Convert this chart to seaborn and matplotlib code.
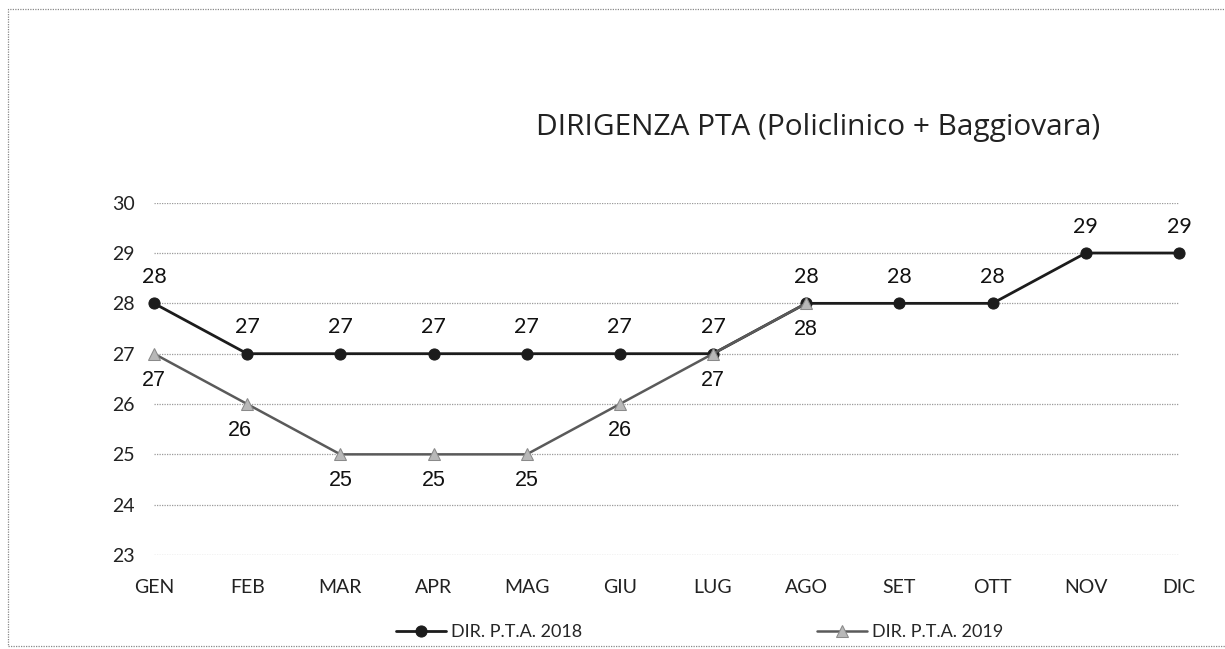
import matplotlib
matplotlib.use("Agg")
import matplotlib.pyplot as plt
import seaborn as sns
import pandas as pd
from matplotlib.patches import Rectangle

#Chart data
months = ["GEN", "FEB", "MAR", "APR", "MAG", "GIU", "LUG", "AGO", "SET", "OTT", "NOV", "DIC"]
dir_2018 = [28, 27, 27, 27, 27, 27, 27, 28, 28, 28, 29, 29]
dir_2019 = [27, 26, 25, 25, 25, 26, 27, 28]
y_ticks = [23, 24, 25, 26, 27, 28, 29, 30]

title = "DIRIGENZA PTA (Policlinico + Baggiovara)"
label_2018 = "DIR. P.T.A. 2018"
label_2019 = "DIR. P.T.A. 2019"

sns.set_style("white")
plt.rcParams["font.family"] = ["Lato", "DejaVu Sans"]

df18 = pd.DataFrame({"x": range(len(dir_2018)), "v": dir_2018})
df19 = pd.DataFrame({"x": range(len(dir_2019)), "v": dir_2019})

fig = plt.figure(figsize=(12.25, 6.49), dpi=100)
ax = fig.add_axes([0.1257, 0.1448, 0.8367, 0.5429])

sns.lineplot(data=df18, x="x", y="v", ax=ax, color="#1c1c1c", linewidth=2,
             marker="o", markersize=8, markeredgecolor="#1c1c1c",
             label=label_2018, clip_on=False, zorder=4)
sns.lineplot(data=df19, x="x", y="v", ax=ax, color="#5a5a5a", linewidth=1.8,
             marker="^", markersize=9, markerfacecolor="#b8b8b8",
             markeredgecolor="#8a8a8a", label=label_2019, clip_on=False, zorder=5)

#Data labels: 2018 above, 2019 below
for i, v in enumerate(dir_2018):
    ax.annotate(str(v), (i, v), xytext=(0, 19), textcoords="offset points",
                ha="center", va="center", fontsize=15.5, color="#111111")
for i, v in enumerate(dir_2019):
    ax.annotate(str(v), (i, v), xytext=(-5 if i == 1 else 0, -19), textcoords="offset points",
                ha="center", va="center", fontsize=15.5, color="#111111",
                family=["Liberation Sans", "DejaVu Sans"])

ax.set_xlim(0, len(months) - 1)
ax.set_ylim(y_ticks[0], y_ticks[-1])
ax.set_xticks(range(len(months)))
ax.set_xticklabels(months)
ax.set_yticks(y_ticks)
ax.tick_params(axis="x", length=0, pad=17, labelsize=14, labelcolor="#222222")
ax.tick_params(axis="y", length=0, pad=14, labelsize=14, labelcolor="#222222")
ax.set_xlabel("")
ax.set_ylabel("")
ax.grid(axis="y", linestyle=(0, (1, 1)), color="#9a9a9a", linewidth=0.9)
ax.set_axisbelow(True)
sns.despine(ax=ax, left=True, bottom=True)

ax.legend(loc="center", bbox_to_anchor=(0.571, 0.026), bbox_transform=fig.transFigure,
          ncol=2, frameon=False, fontsize=13, handlelength=2.8, columnspacing=13,
          handletextpad=0.25)

fig.text(0.668, 0.804, title, ha="center", va="center", fontsize=21.5, color="#222222",
         family=["Open Sans", "DejaVu Sans"])

#Dotted frame around the chart area
fig.patches.append(Rectangle((8 / 1225, 3 / 649), 1.2, 1 - 12 / 649, transform=fig.transFigure,
                             fill=False, linestyle=(0, (1, 1)), edgecolor="#888888",
                             linewidth=0.9))

fig.savefig("out.png", dpi=100)
plt.close(fig)
